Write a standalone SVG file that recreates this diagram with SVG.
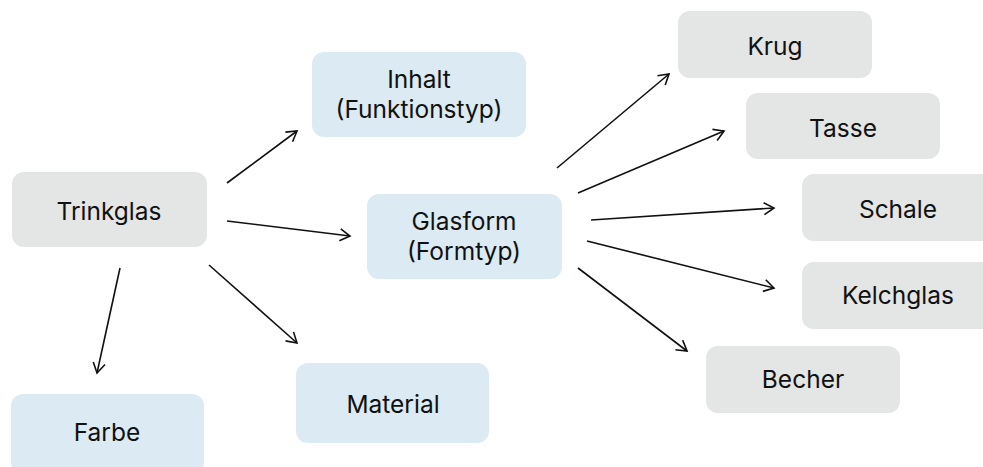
<svg xmlns="http://www.w3.org/2000/svg" width="983" height="467" viewBox="0 0 983 467">
<defs>
<marker id="ah" markerWidth="14" markerHeight="14" refX="11" refY="7" orient="auto" markerUnits="userSpaceOnUse">
<path d="M1,1 L11,7 L1,13" fill="none" stroke="#111" stroke-width="1.6"/>
</marker>
<style>
.g{fill:#e4e5e5}
.b{fill:#dbeaf3}
text{font-family:Inter,"Liberation Sans",sans-serif;font-size:24.5px;fill:#111;text-anchor:middle}
.c line{stroke:#111;stroke-width:1.6;marker-end:url(#ah)}
</style>
</defs>
<rect width="983" height="467" fill="#fff"/>
<g id="trinkglas"><rect class="g" x="12" y="172" width="195" height="75" rx="12"/><text x="109" y="220">Trinkglas</text></g>
<g id="inhalt"><rect class="b" x="312" y="52" width="214" height="85" rx="12"/><text x="419" y="88">Inhalt</text><text x="419" y="118">(Funktionstyp)</text></g>
<g id="glasform"><rect class="b" x="367" y="194" width="195" height="85" rx="12"/><text x="464" y="230">Glasform</text><text x="464" y="260">(Formtyp)</text></g>
<g id="material"><rect class="b" x="296" y="363" width="193" height="80" rx="12"/><text x="393" y="413">Material</text></g>
<g id="farbe"><rect class="b" x="11" y="394" width="193" height="80" rx="12"/><text x="107" y="441">Farbe</text></g>
<g id="krug"><rect class="g" x="678" y="11" width="194" height="67" rx="12"/><text x="775" y="55">Krug</text></g>
<g id="tasse"><rect class="g" x="746" y="93" width="194" height="66" rx="12"/><text x="843" y="137">Tasse</text></g>
<g id="schale"><rect class="g" x="802" y="174" width="195" height="67" rx="12"/><text x="898" y="218">Schale</text></g>
<g id="kelchglas"><rect class="g" x="802" y="262" width="195" height="67" rx="12"/><text x="898" y="304">Kelchglas</text></g>
<g id="becher"><rect class="g" x="706" y="346" width="194" height="67" rx="12"/><text x="803" y="388">Becher</text></g>
<g class="c" id="connectors">
<line x1="227" y1="183" x2="297" y2="131"/>
<line x1="227" y1="221" x2="350" y2="236"/>
<line x1="209" y1="265" x2="297" y2="343"/>
<line x1="120" y1="268" x2="97" y2="373"/>
<line x1="557" y1="168" x2="669" y2="74"/>
<line x1="578" y1="193" x2="724" y2="131"/>
<line x1="591" y1="220" x2="774" y2="208"/>
<line x1="587" y1="241" x2="774" y2="288"/>
<line x1="578" y1="268" x2="687" y2="351"/>
</g>
</svg>
